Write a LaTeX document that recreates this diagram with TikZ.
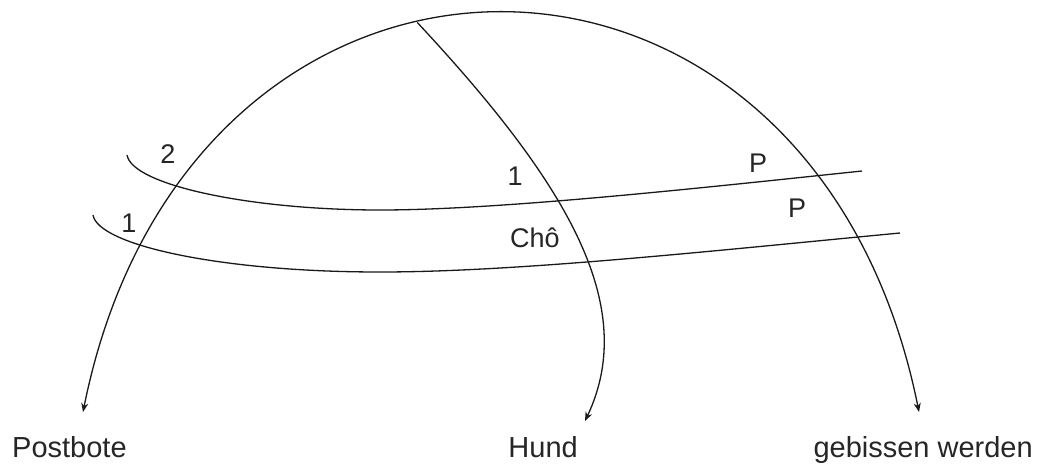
\documentclass[tikz,border=0pt]{standalone}
\usepackage{fontspec}
\setmainfont{Liberation Sans}
\usetikzlibrary{arrows.meta}
\begin{document}
\begin{tikzpicture}[x=1pt,y=-1pt,
  curve/.style={draw=black!90, line width=1.3pt},
  tipend/.style={-{Stealth[length=9pt,width=7pt]}},
  bothtips/.style={{Stealth[length=9pt,width=7pt]}-{Stealth[length=9pt,width=7pt]}},
  lab/.style={font=\fontsize{27}{30}\selectfont, inner sep=0pt, anchor=base, text=black!85},
  word/.style={font=\fontsize{29}{32}\selectfont, inner sep=0pt, text=black!85}]
\useasboundingbox[fill=white] (0,0) rectangle (1040,463);

% end points
\coordinate (post) at (83,412);
\coordinate (geb) at (919,412);
\coordinate (hund) at (585,421);
\coordinate (u0) at (127,155);
\coordinate (u1) at (862,171);
\coordinate (l0) at (93,215);
\coordinate (l1) at (900,233);

% main arch
\draw[curve,bothtips] (post) .. controls (190,-120) and (812,-120) .. (geb)
  coordinate[pos=0.423] (top);

% middle branch to Hund
\draw[curve,tipend] (top) .. controls (566,182) and (640,305) .. (hund);

% upper and lower crossing curves
\draw[curve] (u0) .. controls (132,185) and (250,210) .. (380,210)
  .. controls (500,210) and (700,188) .. (u1);
\draw[curve] (l0) .. controls (98,245) and (220,272) .. (380,272)
  .. controls (520,272) and (720,250) .. (l1);

% small labels
\node[lab] (n2) at (168,163) {2};
\node[lab] (n1a) at (129,232) {1};
\node[lab] (n1b) at (515,185) {1};
\node[lab] (cho) at (535,247) {Chô};
\node[lab] (p1) at (758,172) {P};
\node[lab] (p2) at (797,217) {P};

% bottom words
\node[word, anchor=base west] (wpost) at (12,457) {Postbote};
\node[word, anchor=base east] (whund) at (578,457) {Hund};
\node[word, anchor=base east] (wgeb) at (1033,457) {gebissen werden};
\end{tikzpicture}
\end{document}
